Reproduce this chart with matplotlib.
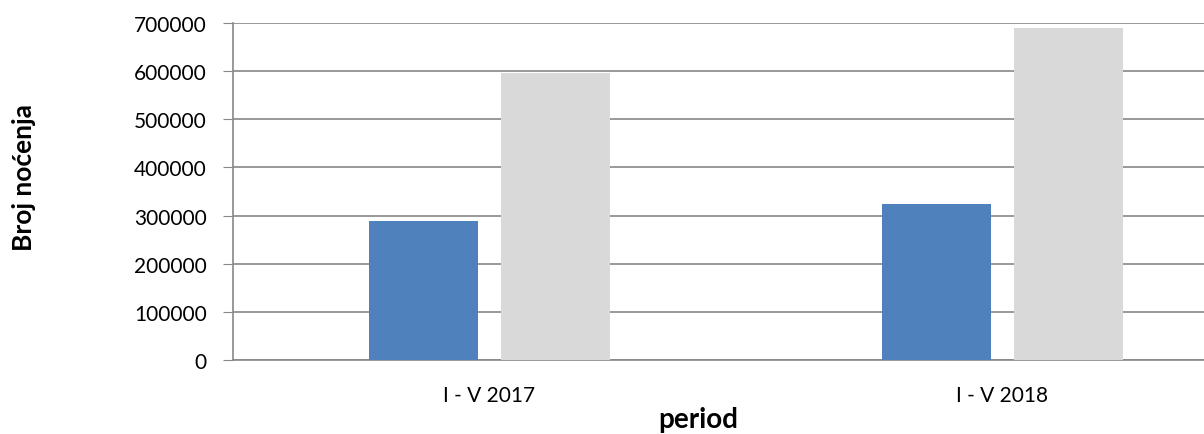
import numpy as np
import matplotlib.pyplot as plt

# --------------------------------------------------
# podaci
# --------------------------------------------------
periodi = ["I - V 2017", "I - V 2018"]
serija_a = [289000, 325000]
serija_b = [597000, 690000]

yticks = [0, 100000, 200000, 300000, 400000, 500000, 600000, 700000]

plt.rcParams['font.family'] = ['Lato', 'DejaVu Sans']

fig = plt.figure(figsize=(12.04, 4.35), dpi=100)

# osa ide malo preko desnog ruba slike (kao u originalu)
ax = fig.add_axes([233 / 1204, 74 / 435, 1026 / 1204, 337 / 435])

x = np.arange(len(periodi))
sirina = 0.2125
pomak = 0.1277

ax.bar(x - pomak, serija_a, width=sirina, color="#4F81BD", zorder=3)
ax.bar(x + pomak, serija_b, width=sirina, color="#D9D9D9", zorder=3)

ax.set_xlim(-0.5, 1.5)
ax.set_ylim(0, 700000)

ax.set_yticks(yticks)
ax.set_yticklabels([str(v) for v in yticks], fontsize=15)
ax.set_xticks(x)
ax.set_xticklabels(periodi, fontsize=15)

ax.grid(axis="y", color="#888888", linewidth=1.2, zorder=0)

for s in ["top", "right"]:
    ax.spines[s].set_visible(False)
ax.spines["left"].set_color("#888888")
ax.spines["bottom"].set_color("#888888")
ax.spines["left"].set_linewidth(1.2)
ax.spines["bottom"].set_linewidth(1.2)

ax.tick_params(axis="y", length=7, color="#888888", pad=12)
ax.tick_params(axis="x", length=0, pad=18)

fig.text(24 / 1204, (435 - 178) / 435, "Broj noćenja", rotation=90,
         ha="center", va="center", fontsize=19, fontweight="bold")
fig.text(698 / 1204, (435 - 420) / 435, "period",
         ha="center", va="center", fontsize=20, fontweight="bold")

fig.savefig("out.png", dpi=100)
